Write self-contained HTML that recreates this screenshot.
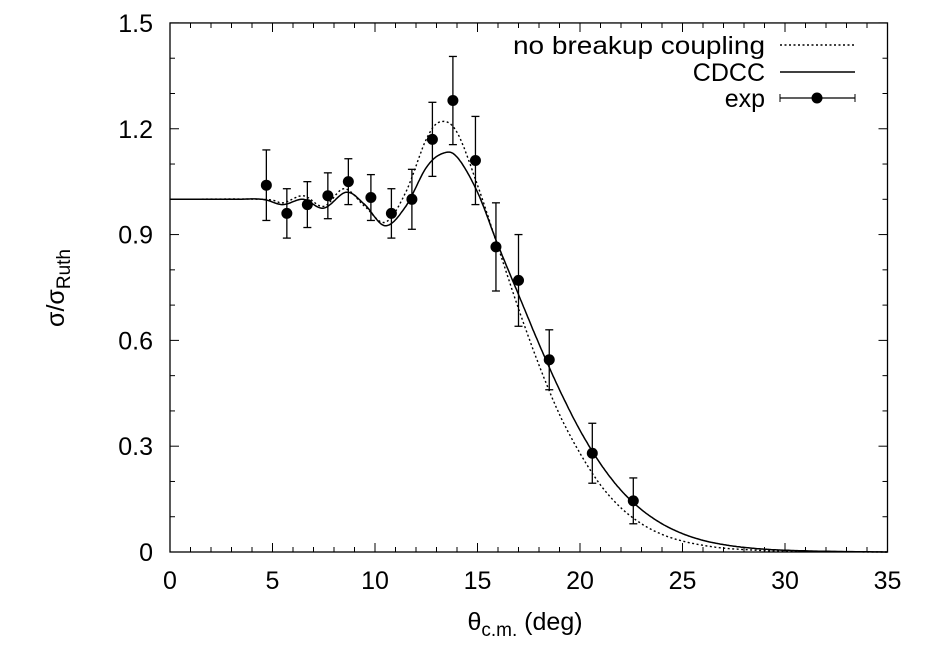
<!DOCTYPE html>
<html><head><meta charset="utf-8"><style>
html,body{margin:0;padding:0;background:#fff;}
svg{display:block;font-family:"Liberation Sans",sans-serif;}
</style></head><body>
<svg id="s" width="925" height="647" viewBox="0 0 925 647" xmlns="http://www.w3.org/2000/svg"></svg>
<script>
const X0=170,XS=20.5,Y0=552,YS=352.7;
const px=x=>X0+x*XS, py=y=>Y0-y*YS;
let h='';
h+=`<rect x="${X0}" y="${py(1.5)}" width="${35*XS}" height="${1.5*YS}" fill="none" stroke="#000" stroke-width="1.3"/>`;
for(let i=0;i<=35;i++){const L=i%5==0?9:5;const x=px(i);
h+=`<line x1="${x}" y1="${Y0}" x2="${x}" y2="${Y0-L}" stroke="#000"/><line x1="${x}" y1="${py(1.5)}" x2="${x}" y2="${py(1.5)+L}" stroke="#000"/>`;
if(i%5==0)h+=`<text x="${x}" y="589" font-size="25" text-anchor="middle">${i}</text>`;}
for(let j=0;j<=15;j++){const L=j%3==0?9:5;const y=py(j/10);
h+=`<line x1="${X0}" y1="${y}" x2="${X0+L}" y2="${y}" stroke="#000"/><line x1="${px(35)}" y1="${y}" x2="${px(35)-L}" y2="${y}" stroke="#000"/>`;
if(j%3==0){const t=j==0?'0':(j/10).toFixed(1);h+=`<text x="153" y="${y+9}" font-size="25" text-anchor="end">${t}</text>`;}}
function cr(p){const pts=[];
for(let i=0;i<p.length-1;i++){const p0=p[Math.max(0,i-1)],p1=p[i],p2=p[i+1],p3=p[Math.min(p.length-1,i+2)];
for(let t=0;t<1;t+=0.05){const t2=t*t,t3=t2*t;
const f=(a,b,c,d)=>0.5*(2*b+(-a+c)*t+(2*a-5*b+4*c-d)*t2+(-a+3*b-3*c+d)*t3);
pts.push([f(p0[0],p1[0],p2[0],p3[0]),f(p0[1],p1[1],p2[1],p3[1])]);}}
pts.push(p[p.length-1]);
return pts.map((q,i)=>(i?'L':'M')+px(q[0]).toFixed(1)+','+py(q[1]).toFixed(1)).join('');}
const sol=[[0,1],[3,1],[4.5,1.0],[5.5,0.985],[6.5,1.0],[7.5,0.975],[8.6,1.02],[9.5,0.985],[10.5,0.925],[11.5,0.98],[12.5,1.09],[13.3,1.13],[14,1.12],[15,1.02],[16,0.87],[17,0.73],[18,0.59],[19,0.46],[20,0.345],[21,0.25],[22,0.175],[23,0.12],[24,0.08],[25,0.052],[26,0.033],[27,0.021],[28,0.013],[29,0.008],[30,0.005],[32,0.002],[35,0]];
const dot=[[0,1],[4.5,1.0],[5.5,0.99],[6.5,1.01],[7.5,0.98],[8.5,1.03],[9.5,0.98],[10.5,0.935],[11.5,1.02],[12.5,1.17],[13.2,1.22],[14,1.19],[15,1.04],[16,0.865],[17,0.69],[18,0.53],[19,0.39],[20,0.28],[21,0.19],[22,0.125],[23,0.08],[24,0.05],[25,0.031],[26,0.019],[27,0.011],[28,0.007],[29,0.004],[30,0.002],[32,0.001],[35,0]];
h+=`<path d="${cr(dot)}" fill="none" stroke="#000" stroke-width="1.4" stroke-dasharray="2,2.5"/>`;
h+=`<path d="${cr(sol)}" fill="none" stroke="#000" stroke-width="1.5"/>`;
const data=[[4.7,1.04,0.1],[5.7,0.96,0.07],[6.7,0.985,0.065],[7.7,1.01,0.065],[8.7,1.05,0.065],[9.8,1.005,0.065],[10.8,0.96,0.07],[11.8,1.0,0.085],[12.8,1.17,0.105],[13.8,1.28,0.125],[14.9,1.11,0.125],[15.9,0.865,0.125],[17.0,0.77,0.13],[18.5,0.545,0.085],[20.6,0.28,0.085],[22.6,0.145,0.065]];
for(const [x,y,e] of data){const X=px(x),a=py(y+e),b=py(y-e);
h+=`<line x1="${X}" y1="${a}" x2="${X}" y2="${b}" stroke="#000" stroke-width="1.3"/><line x1="${X-4}" y1="${a}" x2="${X+4}" y2="${a}" stroke="#000" stroke-width="1.3"/><line x1="${X-4}" y1="${b}" x2="${X+4}" y2="${b}" stroke="#000" stroke-width="1.3"/><circle cx="${X}" cy="${py(y)}" r="5.5" fill="#000"/>`;}
h+=`<text x="765" y="54" font-size="25" text-anchor="end" textLength="252" lengthAdjust="spacingAndGlyphs">no breakup coupling</text><line x1="780" y1="45" x2="855" y2="45" stroke="#000" stroke-width="1.4" stroke-dasharray="2,2.5"/>`;
h+=`<text x="765" y="81" font-size="25" text-anchor="end">CDCC</text><line x1="780" y1="72" x2="855" y2="72" stroke="#000" stroke-width="1.5"/>`;
h+=`<text x="765" y="107" font-size="25" text-anchor="end">exp</text><line x1="780" y1="98" x2="855" y2="98" stroke="#000" stroke-width="1.3"/><line x1="780" y1="94" x2="780" y2="102" stroke="#000"/><line x1="855" y1="94" x2="855" y2="102" stroke="#000"/><circle cx="817" cy="98" r="5.5"/>`;
h+=`<text x="525" y="630" font-size="25" text-anchor="middle">θ<tspan font-size="19" dy="6">c.m.</tspan><tspan dy="-6"> (deg)</tspan></text>`;
h+=`<text transform="translate(64,288) rotate(-90)" font-size="25" text-anchor="middle">σ/σ<tspan font-size="19" dy="6">Ruth</tspan></text>`;
document.getElementById('s').innerHTML=h;
</script>
</body></html>
